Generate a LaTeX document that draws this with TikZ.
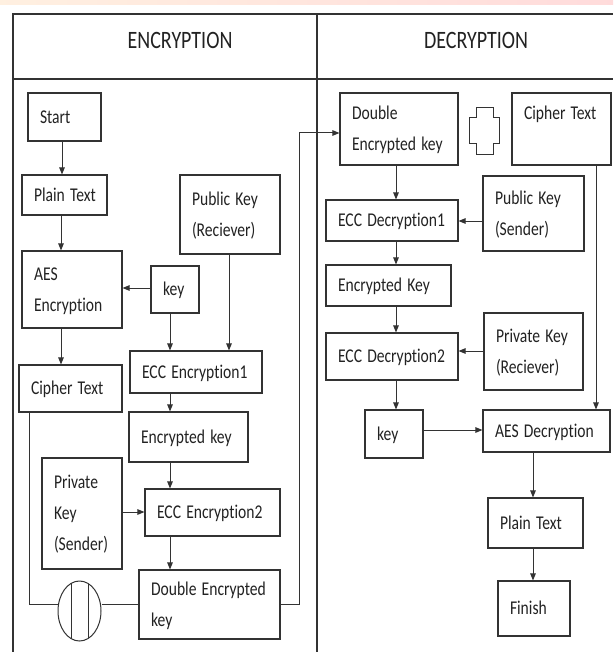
\documentclass[tikz,border=0pt]{standalone}
\usepackage{fontspec}
\usepackage{graphicx}
\setmainfont{Carlito}[Ligatures=NoCommon]
\usetikzlibrary{arrows.meta,shapes.geometric}
\definecolor{ln}{HTML}{333333}
\definecolor{tx}{HTML}{222222}
\tikzset{
  box/.style={draw=ln, line width=1.1pt, align=left, inner xsep=12pt, inner ysep=0pt,
    font={\fontsize{19.5pt}{31pt}\selectfont}, text=tx},
  arr/.style={draw=ln, line width=1pt, -{Triangle[length=7pt,width=5.5pt]}},
  wire/.style={draw=ln, line width=1pt},
  frame/.style={draw=ln, line width=1.5pt},
  head/.style={font=\fontsize{25pt}{30pt}\selectfont, text=tx}
}
\newcommand{\mkbox}[6]{%
  \pgfmathsetmacro\bw{#4-#2}\pgfmathsetmacro\bh{#5-#3}\pgfmathsetmacro\tw{#4-#2-24}%
  \node[box, minimum width=\bw pt, minimum height=\bh pt, text width=\tw pt] (#1) at ({(#2+#4)/2},{(#3+#5)/2})
    {\scalebox{0.8}[1]{\begin{tabular}{@{}l@{}}#6\end{tabular}}};}
\begin{document}
\begin{tikzpicture}[x=1pt,y=-1pt]
\fill[white] (0,0) rectangle (613,652);
\useasboundingbox (0,0) rectangle (613,652);
\shade[left color=orange!12, right color=red!14] (0,0) rectangle (613,5);
% frame
\draw[frame] (13,652) -- (13,14);
\draw[draw=ln, line width=2pt] (12,14) -- (613,14);
\draw[frame] (13,79) -- (613,79);
\draw[frame] (317,14) -- (317,652);
\node[head] (encH) at (180,40) {\scalebox{0.8}[1]{ENCRYPTION}};
\node[head] (decH) at (476,40) {\scalebox{0.8}[1]{DECRYPTION}};
% encryption boxes
\mkbox{start}{28}{93}{101}{141}{Start}
\mkbox{plainA}{22}{175}{107}{215}{Plain Text}
\mkbox{pubR}{180}{175}{280}{254}{Public Key\\(Reciever)}
\mkbox{aesE}{22}{251}{122}{328}{AES\\Encryption}
\mkbox{keyA}{151}{266}{199}{313}{key}
\mkbox{eccE1}{130}{351}{262}{393}{ECC Encryption1}
\mkbox{cipherA}{19}{365}{122}{412}{Cipher Text}
\mkbox{enckA}{129}{412}{248}{462}{Encrypted key}
\mkbox{privS}{42}{458}{122}{569}{Private\\Key\\(Sender)}
\mkbox{eccE2}{145}{489}{280}{536}{ECC Encryption2}
\mkbox{dekA}{139}{570}{280}{639}{Double Encrypted\\key}
% decryption boxes
\mkbox{dekB}{340}{93}{458}{165}{Double\\Encrypted key}
\mkbox{cipherB}{512}{93}{611}{165}{Cipher Text\\\mbox{}}
\mkbox{pubS}{483}{176}{584}{251}{Public Key\\(Sender)}
\mkbox{eccD1}{326}{200}{458}{241}{ECC Decryption1}
\mkbox{enckB}{326}{265}{451}{306}{Encrypted Key}
\mkbox{privR}{484}{313}{583}{390}{Private Key\\(Reciever)}
\mkbox{eccD2}{326}{333}{458}{380}{ECC Decryption2}
\mkbox{keyB}{365}{410}{423}{458}{key}
\mkbox{aesD}{483}{410}{610}{452}{AES Decryption}
\mkbox{plainB}{488}{498}{583}{548}{Plain Text}
\mkbox{finish}{498}{581}{570}{636}{Finish}
% combine symbols
\node[ellipse, draw=ln, line width=1pt, minimum width=43pt, minimum height=60pt, inner sep=0pt,
  path picture={\draw[ln, line width=1pt] ([xshift=-8.5pt]path picture bounding box.north) -- ([xshift=-8.5pt]path picture bounding box.south);
                \draw[ln, line width=1pt] ([xshift=8.5pt]path picture bounding box.north) -- ([xshift=8.5pt]path picture bounding box.south);}]
  (xorA) at (79.5,611) {};
\draw[draw=ln, line width=1pt] (476,108) -- (493,108) -- (493,118) -- (499,118) -- (499,144) -- (493,144) -- (493,155)
  -- (476,155) -- (476,144) -- (469,144) -- (469,118) -- (476,118) -- cycle;
% encryption arrows
\draw[arr] (62,0 |- start.south) -- (62,0 |- plainA.north);
\draw[arr] (61,0 |- plainA.south) -- (61,0 |- aesE.north);
\draw[arr] (61,0 |- aesE.south) -- (61,0 |- cipherA.north);
\draw[arr] (keyA.west |- 0,288) -- (aesE.east |- 0,288);
\draw[arr] (170,0 |- keyA.south) -- (170,0 |- eccE1.north);
\draw[arr] (229,0 |- pubR.south) -- (229,0 |- eccE1.north);
\draw[arr] (170,0 |- eccE1.south) -- (170,0 |- enckA.north);
\draw[arr] (170,0 |- enckA.south) -- (170,0 |- eccE2.north);
\draw[arr] (privS.east |- 0,512) -- (eccE2.west |- 0,512);
\draw[arr] (170,0 |- eccE2.south) -- (170,0 |- dekA.north);
\draw[wire] (29,0 |- cipherA.south) -- (29,604) -- (xorA.west |- 0,604);
\draw[wire] (xorA.east |- 0,604) -- (dekA.west |- 0,604);
\draw[arr] (dekA.east |- 0,604) -- (299,604) -- (299,133) -- (dekB.west |- 0,133);
% decryption arrows
\draw[arr] (396,0 |- dekB.south) -- (396,0 |- eccD1.north);
\draw[arr] (pubS.west |- 0,221) -- (eccD1.east |- 0,221);
\draw[arr] (396,0 |- eccD1.south) -- (396,0 |- enckB.north);
\draw[arr] (396,0 |- enckB.south) -- (396,0 |- eccD2.north);
\draw[arr] (privR.west |- 0,351) -- (eccD2.east |- 0,351);
\draw[arr] (396,0 |- eccD2.south) -- (396,0 |- keyB.north);
\draw[arr] (596,0 |- cipherB.south) -- (596,0 |- aesD.north);
\draw[arr] (keyB.east |- 0,430) -- (aesD.west |- 0,430);
\draw[arr] (533,0 |- aesD.south) -- (533,0 |- plainB.north);
\draw[arr] (533,0 |- plainB.south) -- (533,0 |- finish.north);
\end{tikzpicture}
\end{document}
